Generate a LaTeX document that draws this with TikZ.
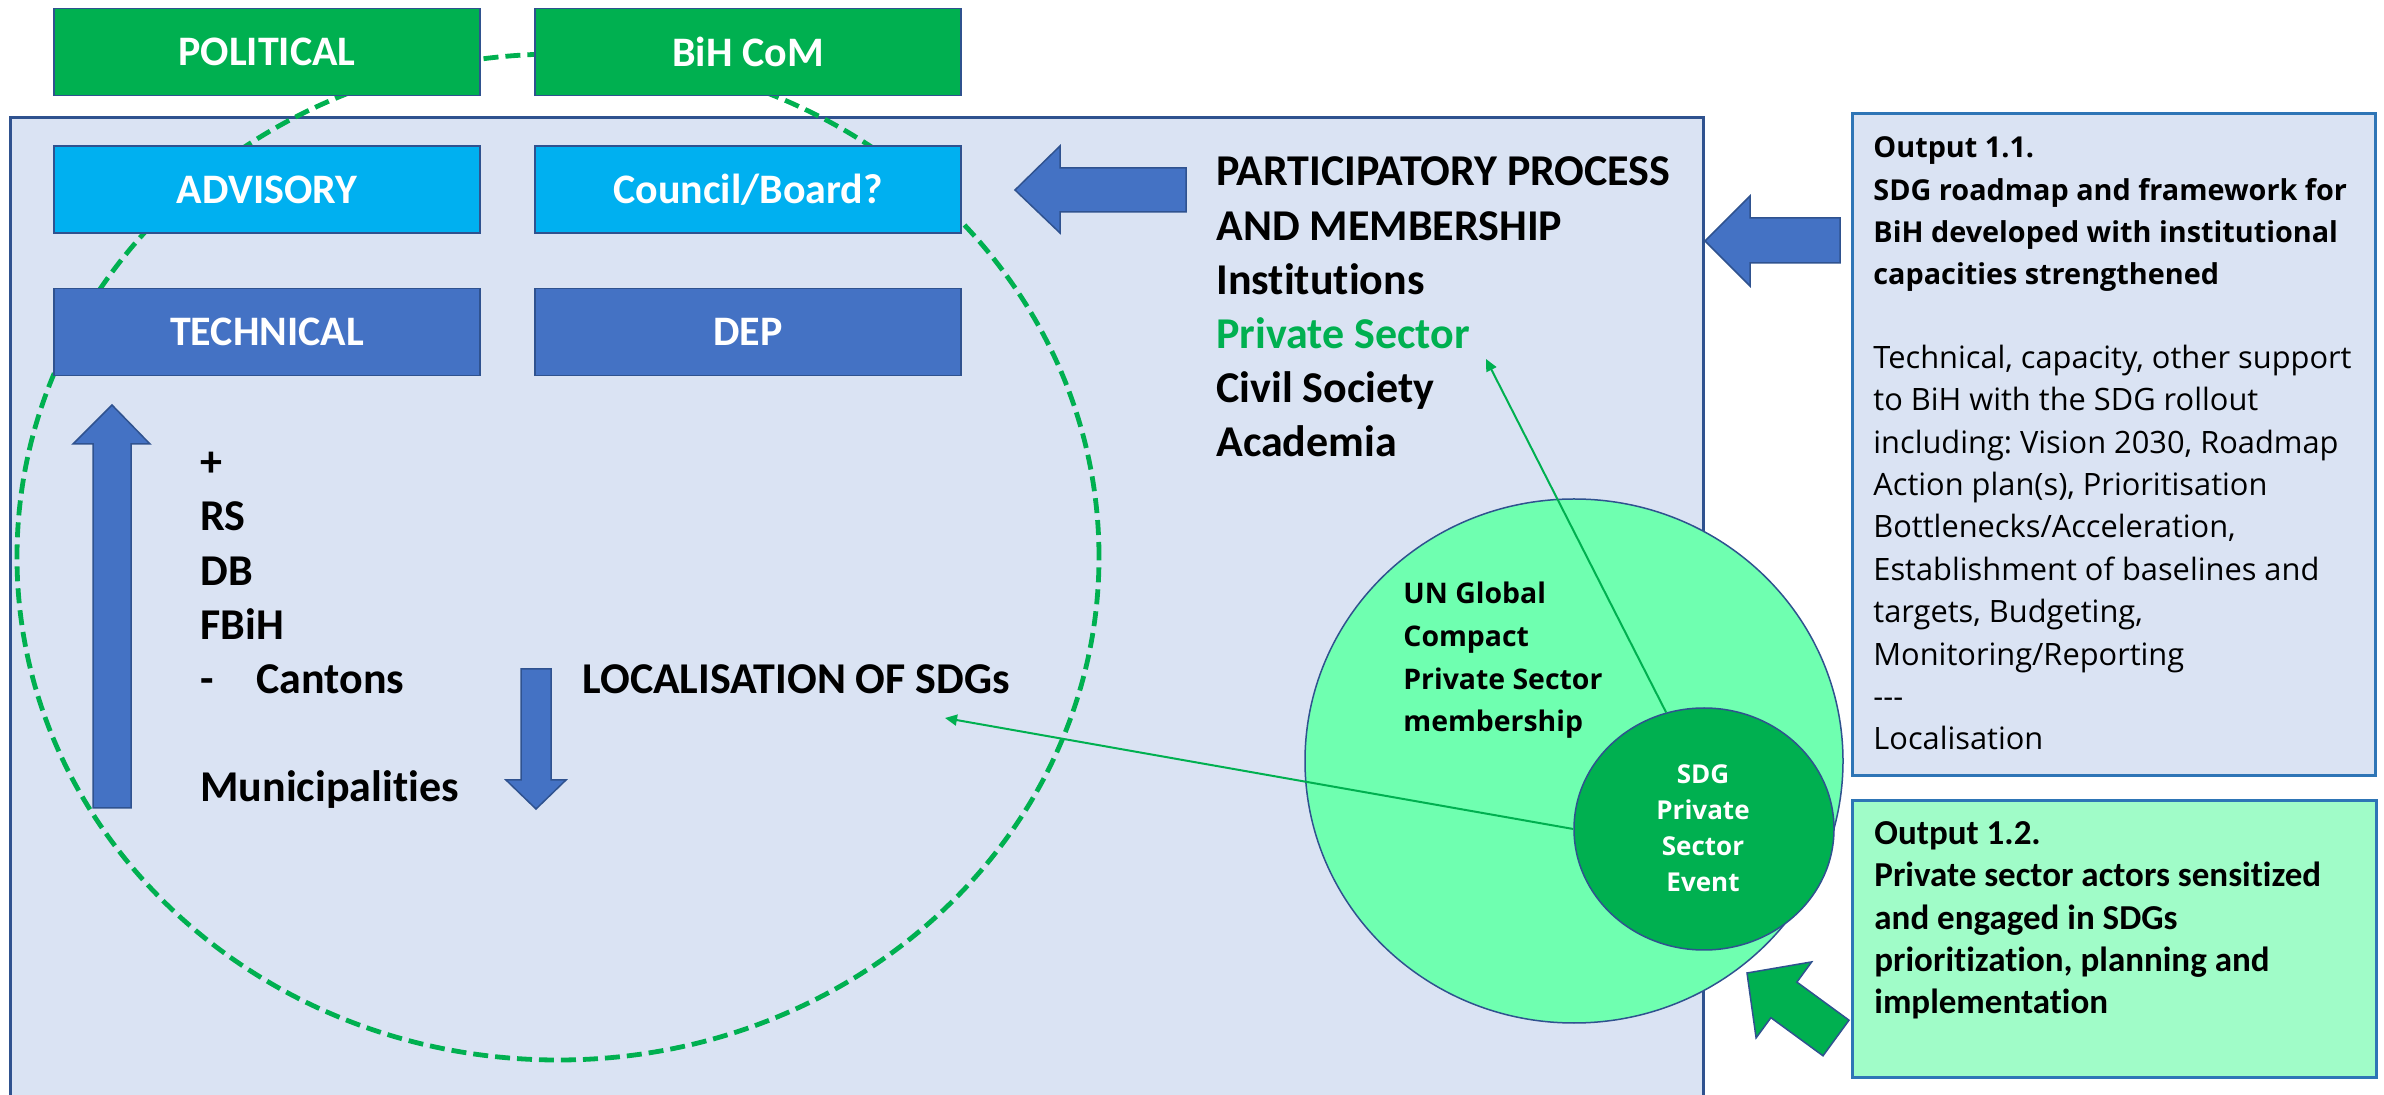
\documentclass[tikz,border=0pt]{standalone}
\usepackage{fontspec}
\setmainfont{Carlito}[Ligatures=NoCommon]
\newfontfamily\osans{Open Sans}
\usetikzlibrary{shapes.geometric,arrows.meta}
\definecolor{pgreen}{HTML}{00B050}
\definecolor{plblue}{HTML}{00B0F0}
\definecolor{pblue}{HTML}{4472C4}
\definecolor{pframe}{HTML}{DAE3F3}
\definecolor{pedge}{HTML}{2F528F}
\definecolor{pmint}{HTML}{6FFFB0}
\definecolor{pmintlight}{HTML}{A0FCC8}
\definecolor{pout}{HTML}{2E75B6}
\frenchspacing
\begin{document}
\begin{tikzpicture}[x=0.5pt,y=-0.5pt,
  orgbox/.style={draw=pedge,line width=0.75pt,minimum width=213pt,minimum height=43.5pt,inner sep=0pt,text=white,font=\fontsize{21}{25}\selectfont\bfseries},
  greenbox/.style={orgbox,fill=pgreen},
  advbox/.style={orgbox,fill=plblue},
  techbox/.style={orgbox,fill=pblue},
  lbl/.style={anchor=base west,inner sep=0pt,align=left,font=\fontsize{22}{27.1}\selectfont\bfseries},
  bigarrow/.style={fill=pblue,draw=pedge,line width=0.75pt},
  thinarrow/.style={draw=pgreen,line width=1pt,-{Triangle[length=6pt,width=5.5pt]}},
  outbox/.style={draw=pout,line width=1.5pt,inner sep=0pt},
]
\useasboundingbox (0,0) rectangle (2384,1095);
\clip (0,0) rectangle (2384,1095);
\fill[white] (0,0) rectangle (2384,1095);
% main frame
\draw[fill=pframe,draw=pedge,line width=1.5pt] (10,118) rectangle (1703,1130);
% dashed ellipse
\draw[pgreen,line width=2.4pt,dash pattern=on 7.5pt off 3.5pt] (558,557) ellipse [x radius=270.5pt,y radius=251.5pt];
% boxes
\node[greenbox] (pol) at (267,52) {POLITICAL};
\node[greenbox] (com) at (748,52) {BiH CoM};
\node[advbox] (adv) at (267,189.5) {ADVISORY};
\node[advbox] (cb) at (748,189.5) {Council/Board?};
\node[techbox] (tech) at (267,332) {TECHNICAL};
\node[techbox] (dep) at (748,332) {DEP};
% texts (base anchor = baseline of last line)
\node[lbl] (part) at (1216,457) {PARTICIPATORY PROCESS\\AND MEMBERSHIP\\Institutions\\\textcolor{pgreen}{Private Sector}\\Civil Society\\Academia};
\node[lbl] (levels) at (200,802) {+\\RS\\DB\\FBiH\\\makebox[28pt][l]{-}Cantons\\[27.1pt]Municipalities};
\node[lbl] (loc) at (582,694) {LOCALISATION OF SDGs};
% block arrows
\draw[bigarrow] (112,405) -- (150,444) -- (131,444) -- (131,808) -- (93,808) -- (93,444) -- (73,444) -- cycle;
\draw[bigarrow] (521,669) -- (551,669) -- (551,780) -- (566,780) -- (536,809) -- (506,780) -- (521,780) -- cycle;
\draw[bigarrow] (1015,190) -- (1060,146) -- (1060,168) -- (1186,168) -- (1186,212) -- (1060,212) -- (1060,233) -- cycle;
\draw[bigarrow] (1705,241) -- (1750,196) -- (1750,218) -- (1840,218) -- (1840,263) -- (1750,263) -- (1750,286) -- cycle;
% circles
\node[ellipse,draw=pedge,line width=0.75pt,fill=pmint,minimum width=269pt,minimum height=262pt,inner sep=0pt] (ungc) at (1574,761) {};
\node[anchor=base west,inner sep=0pt,align=left,font=\osans\fontsize{14.2}{21.35}\selectfont\bfseries] (ungct) at (1403,732) {UN Global\\Compact\\Private Sector\\membership};
\node[ellipse,draw=pedge,line width=0.75pt,fill=pgreen,minimum width=130pt,minimum height=121pt,inner sep=0pt] (sdg) at (1704,829) {};
\node[anchor=base,inner sep=0pt,align=center,text=white,font=\osans\fontsize{13}{18.15}\selectfont\bfseries] (sdgt) at (1703,892) {SDG\\Private\\Sector\\Event};
% thin connectors
\coordinate (locTip) at (945,718);
\coordinate (psTip) at (1486,359);
\draw[thinarrow] (sdg.west) -- (locTip);
\draw[thinarrow] (sdg.108) -- (psTip);
% output 1.1
\node[outbox,fill=pframe,minimum width=261.5pt,minimum height=331pt] (out1) at (2113.5,445) {};
\node[anchor=base west,inner sep=0pt,align=left,font=\osans\fontsize{14.4}{21.2}\selectfont\bfseries] (out1h) at (1873,285) {Output 1.1.\\SDG roadmap and framework for\\BiH developed with institutional\\capacities strengthened};
\node[anchor=base west,inner sep=0pt,align=left,font=\osans\fontsize{15.4}{21.2}\selectfont] (out1b) at (1873,750) {Technical, capacity, other support\\to BiH with the SDG rollout\\including: Vision 2030, Roadmap\\Action plan(s), Prioritisation\\Bottlenecks/Acceleration,\\Establishment of baselines and\\targets, Budgeting,\\Monitoring/Reporting\\---\\Localisation};
% output 1.2
\node[outbox,fill=pmintlight,minimum width=262pt,minimum height=138pt] (out2) at (2114,939) {};
\node[anchor=base west,inner sep=0pt,align=left,font=\fontsize{17.5}{21.25}\selectfont\bfseries] (out2t) at (1874,1014) {Output 1.2.\\Private sector actors sensitized\\and engaged in SDGs\\prioritization, planning and\\implementation};
% green block arrow
\draw[fill=pgreen,draw=pedge,line width=0.75pt] (1747,973) -- (1811.7,961.9) -- (1796.9,982.1) -- (1849,1020.2) -- (1823,1055.8) -- (1770.9,1017.7) -- (1756.1,1037.9) -- cycle;
\end{tikzpicture}
\end{document}
